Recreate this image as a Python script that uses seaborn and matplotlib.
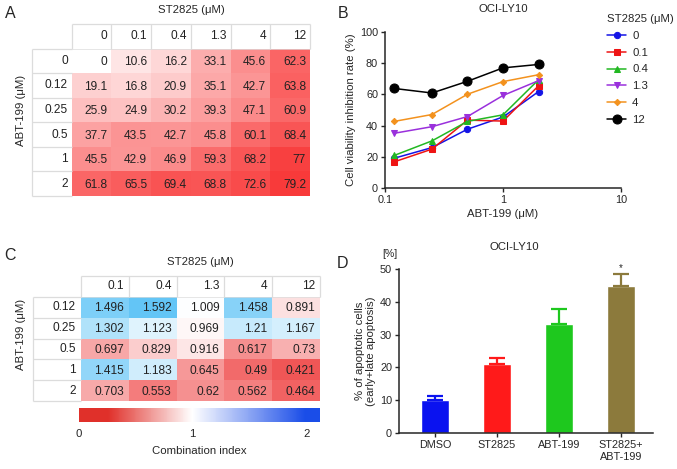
import numpy as np
import pandas as pd
import seaborn as sns
import matplotlib.pyplot as plt
from matplotlib.colors import LinearSegmentedColormap, Normalize
from matplotlib.cm import ScalarMappable

# panel A: cell viability inhibition rate (%), rows = ABT-199, cols = ST2825
st_doses_a = ["0", "0.1", "0.4", "1.3", "4", "12"]
abt_doses_a = ["0", "0.12", "0.25", "0.5", "1", "2"]
inhibition = [
    [0, 10.6, 16.2, 33.1, 45.6, 62.3],
    [19.1, 16.8, 20.9, 35.1, 42.7, 63.8],
    [25.9, 24.9, 30.2, 39.3, 47.1, 60.9],
    [37.7, 43.5, 42.7, 45.8, 60.1, 68.4],
    [45.5, 42.9, 46.9, 59.3, 68.2, 77],
    [61.8, 65.5, 69.4, 68.8, 72.6, 79.2],
]

# panel C: combination index
st_doses_c = ["0.1", "0.4", "1.3", "4", "12"]
abt_doses_c = ["0.12", "0.25", "0.5", "1", "2"]
comb_index = [
    [1.496, 1.592, 1.009, 1.458, 0.891],
    [1.302, 1.123, 0.969, 1.21, 1.167],
    [0.697, 0.829, 0.916, 0.617, 0.73],
    [1.415, 1.183, 0.645, 0.49, 0.421],
    [0.703, 0.553, 0.62, 0.562, 0.464],
]

# panel B styling per ST2825 dose
line_colors = ["#1414e6", "#ee1414", "#22b822", "#9a30dc", "#f3921e", "#000000"]
line_markers = ["o", "s", "^", "v", "D", "o"]
line_msizes = [4.5, 4.5, 4.5, 4.5, 3.2, 6.5]

# panel D: apoptotic cells (%)
groups = ["DMSO", "ST2825", "ABT-199", "ST2825+\nABT-199"]
apoptosis = [10.2, 21.0, 33.3, 44.8]
apoptosis_err = [1.1, 1.9, 4.4, 3.6]
bar_colors = ["#0a12f0", "#ff1a1a", "#1ec81e", "#8c7a3c"]

W, H = 677, 469
sns.set_theme(style="ticks")
plt.rcParams['font.family'] = ['Liberation Sans', 'DejaVu Sans']
plt.rcParams['font.size'] = 8

fig = plt.figure(figsize=(W / 100, H / 100), dpi=100)


def box(x0, y0, x1, y1):
    # pixel box (top-left origin) -> figure fraction rect
    return [x0 / W, 1 - y1 / H, (x1 - x0) / W, (y1 - y0) / H]


def ftext(x, y, s, **kw):
    fig.text(x / W, 1 - y / H, s, **kw)


def table_heatmap(ax, values, cols, rows, cmap, vmin, vmax, fs=8.6):
    df = pd.DataFrame(values, index=rows, columns=cols)
    sns.heatmap(df, ax=ax, cmap=cmap, vmin=vmin, vmax=vmax, cbar=False,
                xticklabels=False, yticklabels=False)
    nr, nc = df.shape
    ax.set_xlim(-1, nc)
    ax.set_ylim(nr, -1)
    ax.set_xlabel("")
    ax.set_ylabel("")
    gc, lw = "#dcdcdc", 0.9
    ax.hlines(-1, 0, nc, color=gc, lw=lw, clip_on=False)
    ax.hlines(range(0, nr + 1), -1, 0, color=gc, lw=lw, clip_on=False)
    ax.hlines(0, 0, nc, color=gc, lw=0.5, clip_on=False)
    ax.vlines(range(0, nc + 1), -1, 0, color=gc, lw=lw, clip_on=False)
    ax.vlines(-1, 0, nr, color=gc, lw=lw, clip_on=False)
    for j, c in enumerate(cols):
        ax.text(j + 0.9, -0.5, c, ha="right", va="center", fontsize=fs, color="#222222")
    for i, r in enumerate(rows):
        ax.text(-0.1, i + 0.5, r, ha="right", va="center", fontsize=fs, color="#222222")
    for i in range(nr):
        for j in range(nc):
            ax.text(j + 0.9, i + 0.55, f"{df.iloc[i, j]:g}", ha="right", va="center",
                    fontsize=fs, color="#222222")


# ---------- A ----------
axA = fig.add_axes(box(32, 24, 310, 196))
reds = LinearSegmentedColormap.from_list("reds", ["#ffffff", "#f83434"])
table_heatmap(axA, inhibition, st_doses_a, abt_doses_a, reds, 0, 82)
ftext(191, 10, "ST2825 (μM)", ha="center", va="center", fontsize=8.2)
ftext(21, 110, "ABT-199 (μM)", ha="center", va="center", rotation=90, fontsize=8.2)

# ---------- C ----------
axC = fig.add_axes(box(33, 276, 320, 401))
ci_cmap = LinearSegmentedColormap.from_list("ci", ["#ee3c3c", "#ffffff", "#50bef5"])
table_heatmap(axC, comb_index, st_doses_c, abt_doses_c, ci_cmap, 0.33, 1.67)
ftext(200, 262, "ST2825 (μM)", ha="center", va="center", fontsize=8.2)
ftext(21, 334, "ABT-199 (μM)", ha="center", va="center", rotation=90, fontsize=8.2)

cax = fig.add_axes(box(79, 408, 320, 422))
cb_cmap = LinearSegmentedColormap.from_list(
    "cb", [(0, "#e0302a"), (0.12, "#e0302a"), (0.47, "#ffffff"), (0.94, "#1a4de8"), (1, "#1a4de8")])
cb = fig.colorbar(ScalarMappable(norm=Normalize(0, 2.12), cmap=cb_cmap), cax=cax,
                  orientation="horizontal")
cb.outline.set_visible(False)
cb.set_ticks([0, 1, 2])
cb.ax.tick_params(length=0, labelsize=8.2, pad=5)
cb.set_label("Combination index", fontsize=8.2, labelpad=5)

# ---------- B ----------
axB = fig.add_axes(box(385, 32, 621, 188))
abt_conc = [float(v) for v in abt_doses_a[1:]]
for k, dose in enumerate(st_doses_a):
    vals = [row[k] for row in inhibition[1:]]
    sns.lineplot(x=abt_conc, y=vals, ax=axB, color=line_colors[k], marker=line_markers[k],
                 markersize=line_msizes[k], markeredgecolor=line_colors[k], linewidth=1.1,
                 label=dose)
axB.set_xscale("log")
axB.set_xlim(0.1, 10)
axB.set_ylim(0, 100)
axB.set_xticks([0.1, 1, 10], ["0.1", "1", "10"])
axB.minorticks_off()
axB.set_yticks(range(0, 101, 20))
axB.tick_params(labelsize=7.8, length=3, width=1, pad=2)
for s in ["left", "bottom"]:
    axB.spines[s].set_linewidth(1.1)
sns.despine(ax=axB)
axB.set_xlabel("ABT-199 (μM)", fontsize=8.2, labelpad=3)
axB.set_ylabel("Cell viability inhibition rate (%)", fontsize=8.2, labelpad=3)
ftext(503, 9, "OCI-LY10", ha="center", va="center", fontsize=8.2)
axB.legend(title="ST2825 (μM)", loc="upper left", bbox_to_anchor=(607 / W, 1 - 14 / H),
           bbox_transform=fig.transFigure, frameon=False, fontsize=8.2, title_fontsize=8.2,
           handlelength=1.7, handletextpad=0.5, labelspacing=0.6, alignment="left",
           borderpad=0, borderaxespad=0)

# ---------- D ----------
axD = fig.add_axes(box(399, 269, 653, 433))
sns.barplot(x=groups, y=apoptosis, hue=groups, palette=bar_colors, width=0.45,
            saturation=1, legend=False, ax=axD)
for k in range(len(groups)):
    axD.errorbar(k, apoptosis[k], yerr=[[0], [apoptosis_err[k]]], fmt="none",
                 ecolor=bar_colors[k], elinewidth=1.6, capsize=5.5, capthick=1.6)
axD.annotate("*", xy=(3, apoptosis[3] + apoptosis_err[3]), xytext=(0, 1),
             textcoords="offset points", ha="center", va="bottom", fontsize=7)
axD.set_xlim(-0.58, 3.52)
axD.set_ylim(0, 50)
axD.set_yticks(range(0, 51, 10))
axD.tick_params(labelsize=7.8, length=3, width=1, pad=2)
for s in ["left", "bottom"]:
    axD.spines[s].set_linewidth(1.1)
sns.despine(ax=axD)
axD.set_xlabel("")
axD.set_ylabel("% of apoptotic cells\n(early+late apoptosis)", fontsize=8.2, labelpad=3,
               linespacing=1.1)
ftext(514, 247, "OCI-LY10", ha="center", va="center", fontsize=8.2)
ftext(390, 254, "[%]", ha="center", va="center", fontsize=7.5)

# panel letters
for lab, x, y in [("A", 10, 14), ("B", 343, 14), ("C", 10, 255), ("D", 343, 263)]:
    ftext(x, y, lab, ha="center", va="center", fontsize=11.5)

fig.savefig("out.png", dpi=100)
